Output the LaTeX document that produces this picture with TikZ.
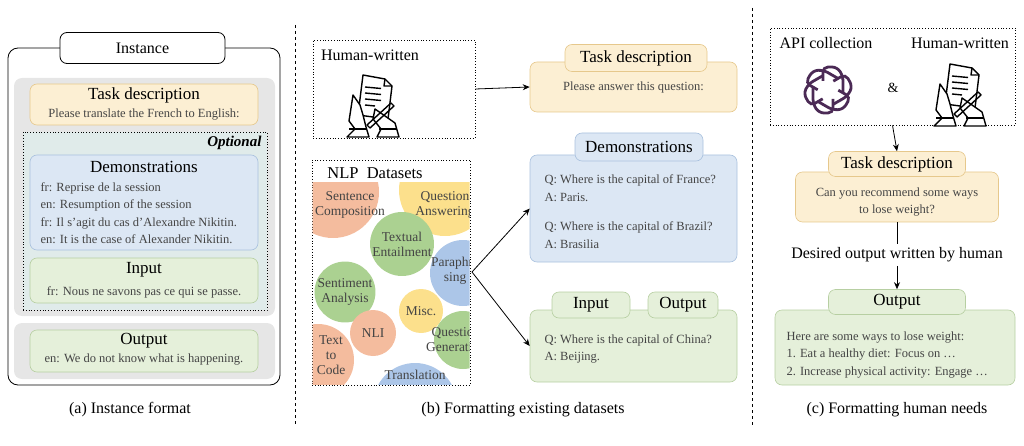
\documentclass[tikz,border=0pt]{standalone}
\usepackage{fontspec}
\setmainfont{Liberation Serif}
\usetikzlibrary{arrows.meta}
\definecolor{orf}{HTML}{FCEFD3}\definecolor{ord}{HTML}{E6C88C}
\definecolor{blf}{HTML}{DCE7F4}\definecolor{bld}{HTML}{A9C1DE}
\definecolor{grf}{HTML}{E5F0DA}\definecolor{grd}{HTML}{B7CFA2}
\definecolor{gyf}{HTML}{E6E6E6}\definecolor{txt}{HTML}{444444}
\definecolor{cor}{HTML}{F4BC9E}\definecolor{cye}{HTML}{FCE08C}
\definecolor{cgr}{HTML}{ABD191}\definecolor{cbl}{HTML}{ACC6E8}
\definecolor{oai}{HTML}{4B2A55}
\tikzset{
 bx/.style={draw, rounded corners=7pt, line width=0.6pt, inner sep=0pt},
 ob/.style={bx, fill=orf, draw=ord},
 bb/.style={bx, fill=blf, draw=bld},
 gb/.style={bx, fill=grf, draw=grd},
 hd/.style={font=\fontsize{17}{19}\selectfont},
 bd/.style={font=\fontsize{12.5}{14}\selectfont, text=txt},
 bdl/.style={text=txt, anchor=west, align=left, font=\fontsize{12.5}{17.5}\selectfont},
 captn/.style={font=\fontsize{16}{18}\selectfont},
 lbl/.style={font=\fontsize{16}{18}\selectfont},
 circ/.style={circle, inner sep=0pt, font=\fontsize{13.5}{15}\selectfont, text=txt, align=center},
 arr/.style={-{Stealth[length=7pt,width=6pt]}, line width=0.8pt},
 dotb/.style={draw, dotted, line width=0.8pt},
}
\newcommand{\rbox}[6]{\node[#1, minimum width=#4pt, minimum height=#5pt] (#2) at (#3) {#6};}
\newcommand{\handicon}[1]{%
 \begin{scope}[shift={(#1)}, line width=1.4pt, line join=round]
  \draw[fill=white] (-12,-28) -- (10,-24) -- (17,-17) -- (13,16) -- (-17,12) -- cycle;
  \draw (10,-24) -- (9,-17) -- (17,-17);
  \foreach \y in {-16,-10,-4} \draw (-10,\y) -- (6,\y+1.5);
  \draw (-10,2) -- (0,3);
  \draw[fill=white] (-22,-8) -- (-26,18) -- (-20,26) -- (-28,34) -- (-6,34) -- (-9,24) -- (-12,12) -- (-15,2) -- cycle;
  \draw (-26,26) -- (-8,26);
  \draw[fill=white] (0,6) -- (20,20) -- (24,34) -- (2,34) -- (6,26) -- (-2,16) -- cycle;
  \draw (4,26) -- (22,26);
  \draw (-8,22) -- (16,0) -- (19,3) -- (-5,25) -- cycle;
 \end{scope}}
\begin{document}
\begin{tikzpicture}[x=1pt,y=-1pt]
\useasboundingbox (0,0) rectangle (1024,446);
% ---------- (a)
\draw[line width=0.8pt, rounded corners=10pt] (8,48) rectangle (280,385);
\rbox{bx, fill=white, line width=0.8pt, draw=black}{inst}{142.5,48}{165}{31}{\fontsize{16}{18}\selectfont Instance}
\fill[gyf, rounded corners=8pt] (14,78) rectangle (275,316);
\rbox{ob}{tda}{144,104.5}{228}{41}{}
\node[hd] at (144,95) {Task description};
\node[bd] at (144,115) {Please translate the French to English:};
\node[dotb, fill=blf!60!grf, minimum width=244pt, minimum height=178pt, inner sep=0pt] (opt) at (145,221) {};
\node[font=\bfseries\itshape\fontsize{15}{17}\selectfont, anchor=east] at (265,143) {Optional};
\rbox{bb}{dema}{144,202.5}{228}{95}{}
\node[hd] at (144,167) {Demonstrations};
\node[bdl] at (37,213) {fr: Reprise de la session\\en: Resumption of the session\\fr: Il s'agit du cas d'Alexandre Nikitin.\\en: It is the case of Alexander Nikitin.};
\rbox{gb}{inpa}{144,280.5}{228}{45}{}
\node[hd] at (144,270) {Input};
\node[bd] at (144,292) {fr: Nous ne savons pas ce qui se passe.};
\fill[gyf, rounded corners=8pt] (14,323) rectangle (275,379);
\rbox{gb}{outa}{144,351}{228}{42}{}
\node[hd] at (144,341) {Output};
\node[bd] at (144,360) {en: We do not know what is happening.};
\node[captn] at (130,410) {(a) Instance format};
% separators
\draw[dashed, line width=0.6pt] (295,25) -- (295,425);
\draw[dashed, line width=0.6pt] (752,8) -- (752,425);
% ---------- (b)
\node[dotb, minimum width=162pt, minimum height=98pt] (hw) at (394,89) {};
\node[lbl] at (370,55) {Human-written};
\handicon{375,103}
\rbox{ob}{tdb}{633.5,87}{207}{50}{\fontsize{12.5}{14}\selectfont\color{txt}Please answer this question:}
\rbox{ob}{tdbt}{636,58}{142}{27}{\fontsize{17}{19}\selectfont Task description}
\draw[arr] (hw.east) -- (tdb.west);
\node[dotb, minimum width=158pt, minimum height=225pt] (nlp) at (391,272.5) {};
\node[font=\fontsize{16.5}{18}\selectfont] at (375,173) {NLP\ \ Datasets};
\begin{scope}
\clip (312.5,183) rectangle (469.5,384.5);
\node[circ, fill=cor, minimum size=92pt] at (333,192) {};
\node[circ] at (350,205) {Sentence\\Composition};
\node[circ, fill=cye, minimum size=92pt] at (445,190) {};
\node[circ] at (445,205) {Question\\Answering};
\node[circ, fill=cgr, minimum size=56pt] at (402,244) {Textual\\Entailment};
\node[circ, fill=cbl, minimum size=66pt] at (463,273) {};
\node[circ] at (455,271) {Paraphra\\sing};
\node[circ, fill=cgr, minimum size=60pt] at (345,292) {Sentiment\\Analysis};
\node[circ, fill=cye, minimum size=44pt] at (421,311) {Misc.};
\node[circ, fill=cor, minimum size=46pt] at (373,333) {NLI};
\node[circ, fill=cgr, minimum size=58pt] at (463,340) {};
\node[circ] at (456,340) {Question\\Generation};
\node[circ, fill=cor, minimum size=72pt] at (318,360) {};
\node[circ] at (331,355) {Text\\to\\Code};
\node[circ, fill=cbl, minimum size=84pt] at (415,405) {};
\node[circ] at (415,375) {Translation};
\end{scope}
\rbox{bb}{demb}{633.5,208.5}{207}{107}{}
\rbox{bb}{dembt}{639,147}{128}{28}{\fontsize{17}{19}\selectfont Demonstrations}
\node[bdl] at (541,188) {Q: Where is the capital of France?\\A: Paris.};
\node[bdl] at (541,235) {Q: Where is the capital of Brazil?\\A: Brasilia};
\rbox{gb}{outb}{633.5,346}{207}{72}{}
\rbox{gb}{inbt}{591,305}{78}{26}{\fontsize{17}{19}\selectfont Input}
\rbox{gb}{outbt}{683,305}{70}{26}{\fontsize{17}{19}\selectfont Output}
\node[bdl] at (541,349) {Q: Where is the capital of China?\\A: Beijing.};
\coordinate (nlpo) at (472,272);
\draw[arr] (nlpo) -- (demb.west);
\draw[arr] (nlpo) -- (outb.west);
\node[captn] at (523,410) {(b) Formatting existing datasets};
% ---------- (c)
\node[dotb, minimum width=245pt, minimum height=97pt] (src) at (892.5,76.5) {};
\node[lbl] at (826,43) {API collection};
\node[lbl] at (960,43) {Human-written};
\begin{scope}[shift={(828,90)}, oai, line width=2.8pt]
\foreach \a in {0,60,...,300}
  \draw[rotate=\a, rounded corners=5pt] (-5,-9) -- (-5,-23) -- (9,-23) -- (15,-14) -- (15,3);
\end{scope}
\node[font=\fontsize{14}{16}\selectfont] at (893,88) {\&};
\handicon{962,92}
\rbox{ob}{tdc}{897,197}{203}{50}{}
\rbox{ob}{tdct}{897,164}{137}{25}{\fontsize{17}{19}\selectfont Task description}
\node[bd, align=center, font=\fontsize{12.5}{17}\selectfont] at (897,202) {Can you recommend some ways\\to lose weight?};
\draw[arr] (src.south) -- (tdct.north);
\node[font=\fontsize{16}{18}\selectfont] (des) at (897,255) {Desired output written by human};
\draw[line width=0.8pt] (tdc.south) -- (des.north);
\rbox{gb}{outc}{895,347.5}{240}{75}{}
\rbox{gb}{outct}{897,302}{137}{25}{\fontsize{17}{19}\selectfont Output}
\draw[arr] (des.south) -- (outct.north);
\node[bdl] at (783,355) {Here are some ways to lose weight:\\1. Eat a healthy diet: Focus on \dots\\2. Increase physical activity: Engage \dots};
\node[captn] at (897,410) {(c) Formatting human needs};
\end{tikzpicture}
\end{document}
